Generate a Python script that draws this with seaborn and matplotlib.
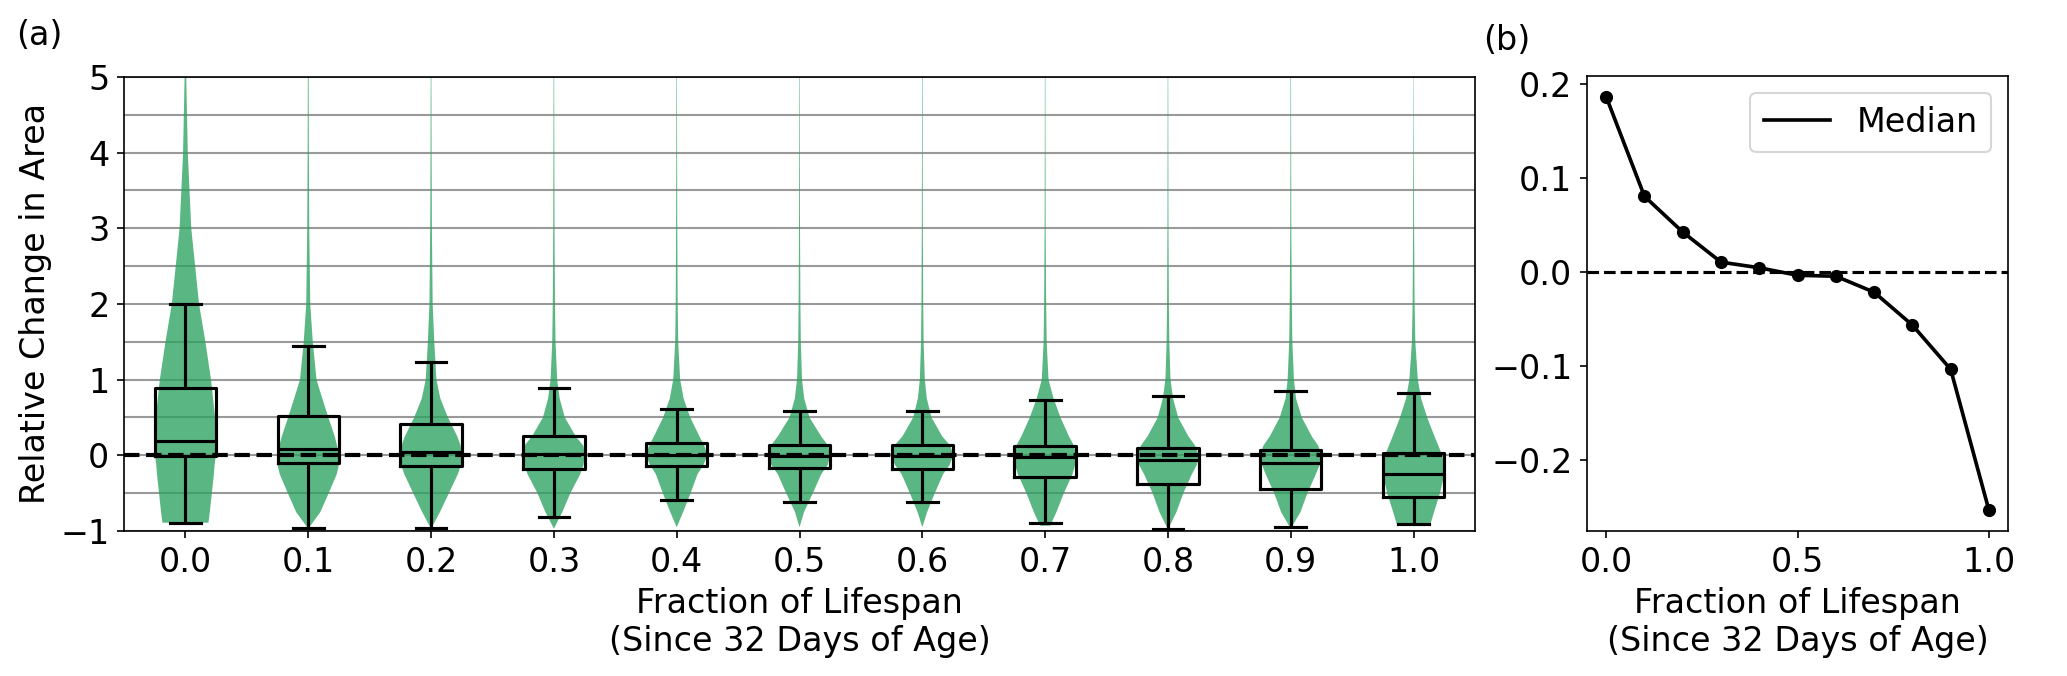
"""
Relative change in area vs fraction of lifespan
(a) violin + box summary per lifespan bin, (b) median trend
"""

import numpy as np
import pandas as pd
import matplotlib
matplotlib.use("Agg")
import matplotlib.pyplot as plt
import matplotlib.ticker as mticker
import seaborn as sns

# ── Data ──────────────────────────────────────────────────────────────────────
CATEGORIES = ["0.0", "0.1", "0.2", "0.3", "0.4", "0.5",
              "0.6", "0.7", "0.8", "0.9", "1.0"]
FRACTION   = [0.0, 0.1, 0.2, 0.3, 0.4, 0.5, 0.6, 0.7, 0.8, 0.9, 1.0]

# five-number summaries of the box plots
WHISK_LO = [-0.89, -0.96, -0.96, -0.82, -0.59, -0.62, -0.62, -0.89, -0.98, -0.95, -0.91]
Q1       = [-0.01, -0.105, -0.136, -0.18, -0.14, -0.17, -0.175, -0.28, -0.373, -0.45, -0.557]
MEDIAN   = [0.187, 0.081, 0.043, 0.011, 0.005, -0.003, -0.004, -0.021, -0.056, -0.103, -0.253]
Q3       = [0.886, 0.52, 0.417, 0.254, 0.162, 0.14, 0.135, 0.123, 0.092, 0.07, 0.035]
WHISK_HI = [2.0, 1.45, 1.237, 0.895, 0.618, 0.59, 0.59, 0.728, 0.79, 0.846, 0.825]

# violin density profiles (relative half-widths at each level)
Y_GRID     = [-0.75, -0.5, -0.25, -0.125, 0.0, 0.125, 0.25, 0.5, 0.75,
              1.0, 1.5, 2.0, 3.0, 4.0, 5.0, 6.0]
VIOLIN_LO  = [-0.89, -0.97, -0.97, -0.97, -0.95, -0.95, -0.95, -0.93, -0.98, -0.97, -0.91]
VIOLIN_LOW = [22.5, 0, 0, 0, 0, 0, 0, 5, 0, 0, 16.7]
W00 = [23.8, 25.8, 27.8, 28.5, 29.7, 29.8, 30.0, 29.0, 27.0, 25.0, 19.5, 13.3, 5.7, 2.3, 0.8, 0.4]
W01 = [12.0, 20.3, 28.3, 30.5, 30.0, 28.7, 26.3, 20.0, 14.0, 8.2, 4.5, 2.0, 1.0, 0.6, 0.4, 0.3]
W02 = [8.3, 16.7, 25.0, 28.0, 28.7, 27.7, 24.5, 15.8, 8.7, 5.0, 3.0, 1.5, 0.8, 0.5, 0.3, 0.2]
W03 = [7.7, 15.0, 24.0, 27.0, 28.0, 27.0, 20.0, 10.0, 5.3, 3.0, 1.5, 1.0, 0.6, 0.4, 0.25, 0.2]
W04 = [6.5, 14.0, 21.0, 27.0, 31.0, 28.0, 23.0, 13.7, 7.0, 3.5, 1.5, 1.0, 0.6, 0.4, 0.25, 0.2]
W05 = [4.5, 13.3, 21.7, 28.3, 30.7, 28.8, 21.7, 10.0, 4.7, 2.5, 1.3, 0.9, 0.5, 0.35, 0.25, 0.2]
W06 = [4.8, 12.5, 20.8, 27.5, 30.8, 28.3, 20.0, 9.2, 4.5, 2.5, 1.3, 0.9, 0.5, 0.35, 0.25, 0.2]
W07 = [11.0, 18.3, 26.7, 29.3, 30.0, 28.3, 23.3, 15.0, 8.3, 3.3, 1.5, 1.0, 0.5, 0.35, 0.25, 0.2]
W08 = [8.3, 15.0, 23.3, 28.3, 30.0, 26.7, 20.0, 10.0, 5.0, 2.5, 1.3, 0.9, 0.5, 0.35, 0.25, 0.2]
W09 = [9.2, 15.8, 23.8, 27.5, 29.2, 26.2, 20.0, 10.5, 5.0, 3.0, 1.5, 1.0, 0.5, 0.35, 0.25, 0.2]
W10 = [20.3, 26.2, 30.5, 30.5, 28.3, 24.7, 20.8, 13.5, 7.5, 4.2, 1.7, 1.0, 0.5, 0.3, 0.15, 0.1]
VIOLIN_W = [W00, W01, W02, W03, W04, W05, W06, W07, W08, W09, W10]

# ── Style ─────────────────────────────────────────────────────────────────────
GREEN = "#2ca25f"
plt.rcParams.update({"font.size": 16, "font.family": ["DejaVu Sans"]})

fig = plt.figure(figsize=(2067 / 150, 676 / 150), dpi=150)
ax_a = fig.add_axes([0.060, 0.2145, 0.6536, 0.6716])
ax_b = fig.add_axes([0.7678, 0.2145, 0.2037, 0.6731])

# ─────────────────────────────────────────────────────────────────────────────
# (a) violins + boxes
# ─────────────────────────────────────────────────────────────────────────────
stats = []
for i in range(len(CATEGORIES)):
    coords = [VIOLIN_LO[i]] + Y_GRID
    vals = [VIOLIN_LOW[i]] + VIOLIN_W[i]
    stats.append({"coords": np.array(coords), "vals": np.array(vals),
                  "mean": MEDIAN[i], "median": MEDIAN[i],
                  "min": VIOLIN_LO[i], "max": Y_GRID[-1]})
parts = ax_a.violin(stats, positions=range(len(CATEGORIES)), widths=0.5,
                    showextrema=False)
for body in parts["bodies"]:
    body.set_facecolor(GREEN)
    body.set_edgecolor("none")
    body.set_linewidth(0)
    body.set_alpha(0.78)
    body.set_zorder(1)

box_df = pd.DataFrame({
    "cat": np.repeat(CATEGORIES, 5),
    "val": np.column_stack([WHISK_LO, Q1, MEDIAN, Q3, WHISK_HI]).ravel(),
})
sns.boxplot(data=box_df, x="cat", y="val", order=CATEGORIES, ax=ax_a,
            fill=False, color="k", width=0.5, whis=(0, 100), linewidth=1.5,
            showfliers=False)

ax_a.axhline(0, color="k", ls="--", lw=2, zorder=3)
ax_a.set_ylim(-1, 5)
ax_a.set_xlim(-0.5, len(CATEGORIES) - 0.5)
ax_a.set_yticks(range(-1, 6))
ax_a.yaxis.set_minor_locator(mticker.MultipleLocator(0.5))
ax_a.tick_params(axis="y", which="minor", length=0)
ax_a.set_axisbelow(True)
ax_a.yaxis.grid(True, which="both", color="0.6", lw=1)
ax_a.set_xlabel("Fraction of Lifespan\n(Since 32 Days of Age)")
ax_a.set_ylabel("Relative Change in Area")

# ─────────────────────────────────────────────────────────────────────────────
# (b) median trend
# ─────────────────────────────────────────────────────────────────────────────
sns.lineplot(x=FRACTION, y=MEDIAN, color="k", lw=1.75, label="Median", ax=ax_b)
sns.scatterplot(x=FRACTION, y=MEDIAN, color="k", s=40, linewidth=0,
                zorder=3, ax=ax_b)
ax_b.axhline(0, color="k", ls="--", lw=1.5)
ax_b.set_xticks([0.0, 0.5, 1.0])
ax_b.set_yticks([-0.2, -0.1, 0.0, 0.1, 0.2])
ax_b.set_xlabel("Fraction of Lifespan\n(Since 32 Days of Age)")
ax_b.legend(loc="upper right")

fig.text(0.0077, 0.972, "(a)", va="top", ha="left")
fig.text(0.7175, 0.965, "(b)", va="top", ha="left")

fig.savefig("out.png", dpi=150)
plt.close()
print("[SAVED]  out.png")
